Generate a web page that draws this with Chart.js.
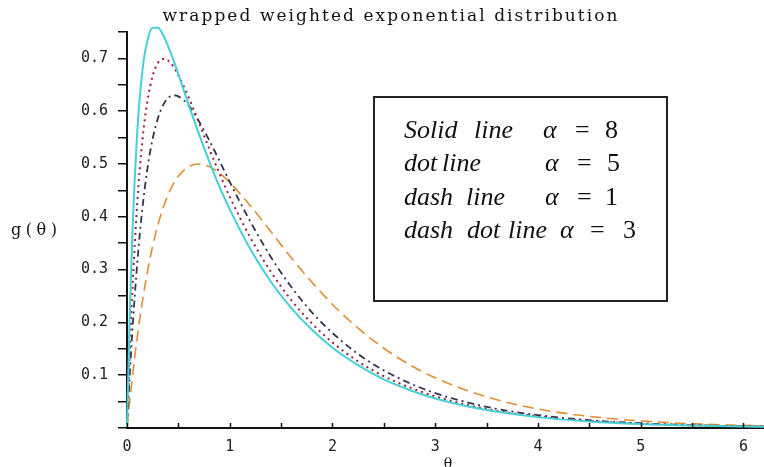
<!DOCTYPE html>
<html>
<head>
<meta charset="utf-8">
<script src="https://cdn.jsdelivr.net/npm/chart.js@4.4.1/dist/chart.umd.min.js"></script>
<style>
  html, body { margin: 0; padding: 0; background: #fff; }
  #wrap { width: 764px; height: 467px; }
</style>
</head>
<body>
<div id="wrap"><canvas id="chart" width="764" height="467"></canvas></div>
<script>
// theta values (x) and g(theta) for each alpha
const theta = [0, 0.025, 0.05, 0.1, 0.15, 0.2, 0.25, 0.3, 0.35, 0.4, 0.45, 0.5,
  0.6, 0.7, 0.8, 0.9, 1.0, 1.2, 1.4, 1.6, 1.8, 2.0, 2.25, 2.5, 2.75, 3.0,
  3.5, 4.0, 4.5, 5.0, 5.5, 6.0, 6.2];
const gAlpha8 = [0.002, 0.199, 0.353, 0.561, 0.677, 0.735, 0.758, 0.758, 0.745, 0.723, 0.698, 0.670,
  0.612, 0.557, 0.505, 0.457, 0.414, 0.339, 0.277, 0.227, 0.186, 0.152, 0.119, 0.092, 0.072, 0.056,
  0.034, 0.0206, 0.0125, 0.0076, 0.0046, 0.0028, 0.0023];
const gAlpha5 = [0.002, 0.138, 0.252, 0.427, 0.545, 0.621, 0.667, 0.691, 0.699, 0.696, 0.685, 0.668,
  0.626, 0.578, 0.529, 0.482, 0.438, 0.361, 0.296, 0.242, 0.198, 0.162, 0.126, 0.098, 0.077, 0.060,
  0.036, 0.022, 0.0133, 0.0081, 0.0049, 0.0030, 0.0024];
const gAlpha3 = [0.003, 0.094, 0.177, 0.313, 0.416, 0.493, 0.548, 0.586, 0.611, 0.625, 0.630, 0.628,
  0.611, 0.581, 0.545, 0.506, 0.466, 0.391, 0.324, 0.267, 0.219, 0.180, 0.140, 0.109, 0.085, 0.066,
  0.040, 0.0244, 0.0148, 0.0090, 0.0054, 0.0033, 0.0027];
const gAlpha1 = [0.004, 0.048, 0.093, 0.172, 0.240, 0.297, 0.345, 0.384, 0.416, 0.442, 0.462, 0.477,
  0.495, 0.500, 0.495, 0.483, 0.465, 0.421, 0.372, 0.322, 0.276, 0.234, 0.189, 0.151, 0.120, 0.095,
  0.059, 0.036, 0.022, 0.0134, 0.0081, 0.0049, 0.0041];

const legendNames = ["Solid line", "dot line", "dash line", "dash dot line"];
const legendAlphas = ["8", "5", "1", "3"];

const titleText = "wrapped weighted exponential distribution";
const yTitle = "g(\u03B8)";
const xTitle = "\u03B8";

const pts = ys => theta.map((t, i) => ({ x: t, y: ys[i] }));

// words of each legend line: [left x]; alpha / "=" / value positions
const legendLayout = [
  { words: [404, 474], a: 543, eq: 575, v: 605 },
  { words: [404, 442], a: 545, eq: 577, v: 607 },
  { words: [404, 466], a: 545, eq: 577, v: 605 },
  { words: [404, 467, 508], a: 560, eq: 590, v: 623 }
];

function spacedText(ctx, txt, cx, cy, width) {
  ctx.letterSpacing = "0px";
  const w = ctx.measureText(txt).width;
  const sp = Math.max(0, (width - w) / Math.max(1, txt.length - 1));
  ctx.letterSpacing = sp + "px";
  ctx.textAlign = "left";
  ctx.fillText(txt, cx - width / 2, cy);
  ctx.letterSpacing = "0px";
}

const overlay = {
  id: "overlay",
  afterDraw(chart) {
    const { ctx, chartArea, scales } = chart;
    ctx.save();
    // inward x ticks
    ctx.strokeStyle = "#111"; ctx.lineWidth = 1.5;
    scales.x.ticks.forEach(t => {
      const px = Math.round(scales.x.getPixelForValue(t.value)) + 0.5;
      ctx.beginPath(); ctx.moveTo(px, chartArea.bottom); ctx.lineTo(px, chartArea.bottom - 5); ctx.stroke();
    });

    // title + axis titles
    ctx.fillStyle = "#111";
    ctx.textBaseline = "alphabetic";
    ctx.font = "17px 'DejaVu Serif'";
    spacedText(ctx, titleText, 390, 21, 455);
    ctx.font = "16px 'DejaVu Serif'";
    spacedText(ctx, yTitle, 34, 235, 46);
    ctx.textAlign = "center";
    ctx.font = "14px 'DejaVu Serif'";
    ctx.fillText(xTitle, 448, 468);

    // legend box
    ctx.strokeStyle = "#222"; ctx.lineWidth = 2;
    ctx.strokeRect(374, 97, 293, 204);
    ctx.textAlign = "left";
    legendLayout.forEach((L, i) => {
      const y = 138 + i * 33.4;
      ctx.font = "italic 26px 'Liberation Serif'";
      const words = legendNames[i].split(" ");
      L.words.forEach((x, k) => ctx.fillText(words[k], x, y));
      ctx.fillText("\u03B1", L.a, y);
      ctx.font = "26px 'Liberation Serif'";
      ctx.fillText("=", L.eq, y);
      ctx.fillText(legendAlphas[i], L.v, y);
    });
    ctx.restore();
  }
};

const common = { pointRadius: 0, fill: false, clip: false, cubicInterpolationMode: "monotone" };

new Chart(document.getElementById("chart"), {
  type: "line",
  data: {
    datasets: [
      { ...common, label: "alpha = 8", data: pts(gAlpha8), borderColor: "#45d0d6", borderWidth: 2 },
      { ...common, label: "alpha = 5", data: pts(gAlpha5), borderColor: "#a3193b", borderWidth: 2, borderDash: [2, 4] },
      { ...common, label: "alpha = 3", data: pts(gAlpha3), borderColor: "#33334f", borderWidth: 1.8, borderDash: [7, 4, 2, 4] },
      { ...common, label: "alpha = 1", data: pts(gAlpha1), borderColor: "#df8e38", borderWidth: 1.6, borderDash: [11, 6] }
    ]
  },
  options: {
    responsive: false,
    animation: false,
    layout: { padding: { top: 32, right: 0, left: 0, bottom: 0 } },
    plugins: { legend: { display: false }, title: { display: false }, tooltip: { enabled: false } },
    scales: {
      x: {
        type: "linear", min: 0, max: 6.2,
        afterFit(s) { s.height = 39; },
        grid: { display: false },
        border: { display: true, color: "#111", width: 2 },
        ticks: {
          stepSize: 0.5, includeBounds: false, autoSkip: false, maxRotation: 0, padding: 2,
          color: "#222", font: { family: "'DejaVu Sans Mono'", size: 15 },
          callback: v => Number.isInteger(v) ? String(v) : ""
        }
      },
      y: {
        type: "linear", min: 0, max: 0.75,
        afterFit(s) { s.width = 127; },
        grid: { drawOnChartArea: false, drawTicks: true, tickLength: 9, color: "#111", lineWidth: 1.5 },
        border: { display: true, color: "#111", width: 2 },
        ticks: {
          stepSize: 0.05, padding: 10, color: "#222",
          font: { family: "'DejaVu Sans Mono'", size: 15 },
          callback: v => (v > 0.01 && Math.abs(v * 10 - Math.round(v * 10)) < 1e-6) ? v.toFixed(1) : ""
        }
      }
    }
  },
  plugins: [overlay]
});
</script>
</body>
</html>
